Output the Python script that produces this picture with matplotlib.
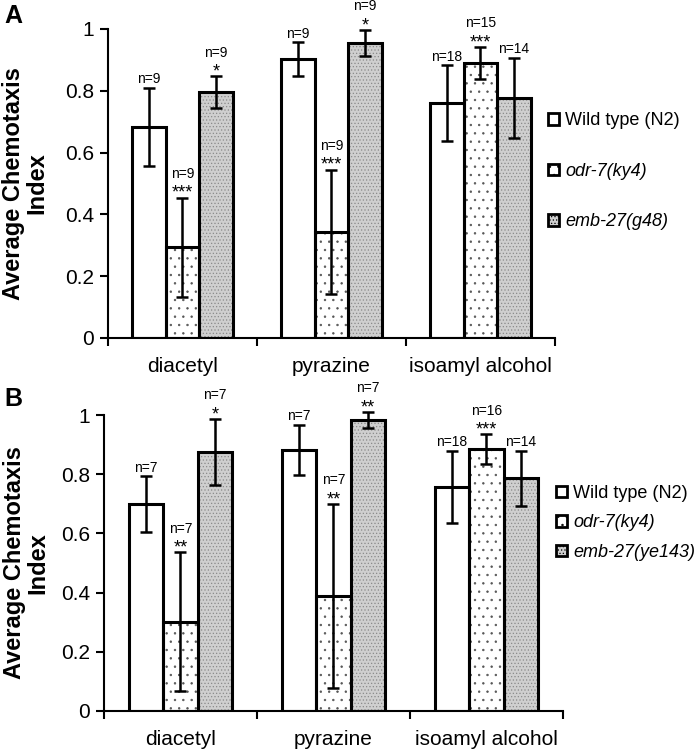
import matplotlib
matplotlib.use("Agg")
import matplotlib.pyplot as plt
from matplotlib.patches import Patch
import numpy as np

plt.rcParams["font.family"] = ["Liberation Sans", "DejaVu Sans"]
plt.rcParams["hatch.linewidth"] = 0.5

odorants = ["diacetyl", "pyrazine", "isoamyl alcohol"]
strains_a = ["Wild type (N2)", "odr-7(ky4)", "emb-27(g48)"]
strains_b = ["Wild type (N2)", "odr-7(ky4)", "emb-27(ye143)"]

# panel A: rows are strains, columns are odorants
means_a = [[0.683, 0.903, 0.760],
           [0.294, 0.343, 0.889],
           [0.796, 0.955, 0.777]]
errs_a = [[0.127, 0.054, 0.123],
          [0.160, 0.202, 0.052],
          [0.051, 0.042, 0.130]]
n_a = [["n=9", "n=9", "n=18"],
       ["n=9", "n=9", "n=15"],
       ["n=9", "n=9", "n=14"]]
stars_a = [["", "", ""],
           ["***", "***", "***"],
           ["*", "*", ""]]

# panel B
means_b = [[0.699, 0.882, 0.757],
           [0.301, 0.389, 0.885],
           [0.875, 0.983, 0.787]]
errs_b = [[0.095, 0.085, 0.123],
          [0.235, 0.310, 0.050],
          [0.112, 0.027, 0.093]]
n_b = [["n=7", "n=7", "n=18"],
       ["n=7", "n=7", "n=16"],
       ["n=7", "n=7", "n=14"]]
stars_b = [["", "", ""],
           ["**", "**", "***"],
           ["*", "**", ""]]

faces = ["white", "white", "#cfcfcf"]
hatches = [None, "..", "....."]
hatch_cols = ["white", "#555555", "#8a8a8a"]


def draw_panel(ax, means, errs, ns, stars, strains, label_x, leg_x, leg_y, leg_gap):
    x = np.arange(len(odorants))
    w = 0.225
    for i in range(3):
        xs = x + (i - 1) * w
        # fill + hatch (hatch colour follows edgecolor)
        ax.bar(xs, means[i], w, color=faces[i], hatch=hatches[i],
               edgecolor=hatch_cols[i], linewidth=0, zorder=2)
        # black outline
        ax.bar(xs, means[i], w, fill=False, edgecolor="black",
               linewidth=2.2, zorder=3)
        ax.errorbar(xs, means[i], yerr=errs[i], fmt="none", ecolor="black",
                    elinewidth=1.8, capsize=4, capthick=1.8, zorder=4,
                    clip_on=False)
        for j in range(len(odorants)):
            top = means[i][j] + errs[i][j]
            off = 1
            if stars[i][j]:
                ax.annotate(stars[i][j], (xs[j], top), xytext=(0, -3),
                            textcoords="offset points", ha="center",
                            va="bottom", fontsize=13, annotation_clip=False)
                off = 12
            ax.annotate(ns[i][j], (xs[j], top), xytext=(0, off),
                        textcoords="offset points", ha="center",
                        va="bottom", fontsize=10, annotation_clip=False)

    ax.set_xlim(-0.5, 2.5)
    ax.set_ylim(0, 1)
    ax.set_yticks([0, 0.2, 0.4, 0.6, 0.8, 1])
    ax.set_yticklabels(["0", "0.2", "0.4", "0.6", "0.8", "1"])
    ax.set_xticks(x)
    ax.set_xticklabels(odorants)
    ax.set_xticks([-0.5, 0.5, 1.5, 2.5], minor=True)
    ax.tick_params(axis="x", which="major", length=0, labelsize=15, pad=14)
    ax.tick_params(axis="x", which="minor", length=6, width=1.5)
    ax.tick_params(axis="y", length=6, width=1.5, labelsize=15, pad=4)
    for s in ["top", "right"]:
        ax.spines[s].set_visible(False)
    for s in ["left", "bottom"]:
        ax.spines[s].set_linewidth(1.5)
    ax.set_ylabel("Average Chemotaxis\nIndex", fontsize=17,
                  fontweight="bold", linespacing=1.0)
    ax.yaxis.set_label_coords(label_x, 0.5)

    handles = [Patch(facecolor=faces[i], hatch=hatches[i], edgecolor="black",
                     linewidth=2) for i in range(3)]
    leg = ax.legend(handles, strains, loc="upper left",
                    bbox_to_anchor=(leg_x, leg_y), frameon=False,
                    fontsize=13, handlelength=0.6, handleheight=0.6,
                    handletextpad=0.35, labelspacing=leg_gap,
                    borderaxespad=0, borderpad=0)
    for k, t in enumerate(leg.get_texts()):
        if k > 0:
            t.set_style("italic")


fig = plt.figure(figsize=(6.94, 7.51), dpi=100)
ax_a = fig.add_axes([0.1556, 0.550, 0.644, 0.4115])
ax_b = fig.add_axes([0.1499, 0.0533, 0.661, 0.394])

draw_panel(ax_a, means_a, errs_a, n_a, stars_a, strains_a,
           -0.134, 0.985, 0.73, 1.85)
draw_panel(ax_b, means_b, errs_b, n_b, stars_b, strains_b,
           -0.12, 0.985, 0.765, 0.7)

fig.text(0.006, 0.995, "A", fontsize=18, fontweight="bold", va="top")
fig.text(0.006, 0.485, "B", fontsize=18, fontweight="bold", va="top")

fig.savefig("out.png", dpi=100)
